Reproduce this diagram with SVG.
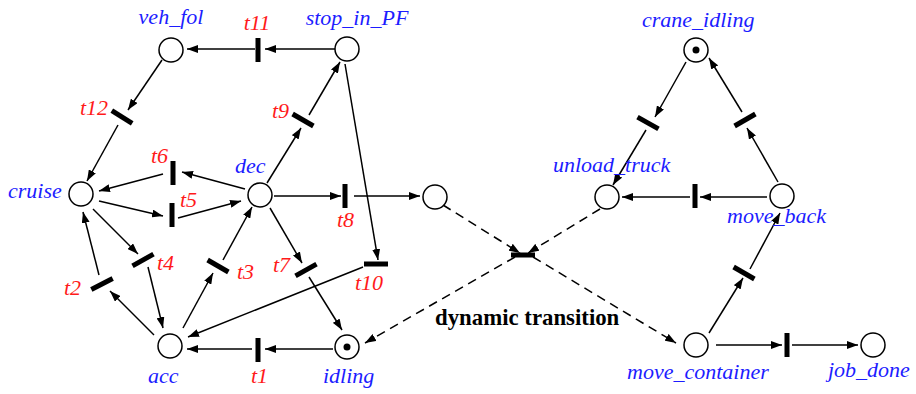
<svg xmlns="http://www.w3.org/2000/svg" width="916" height="394" viewBox="0 0 916 394">
<style>
.pl{fill:#fff;stroke:#000;stroke-width:1.5}
.tk{fill:#000}
.tr{fill:#000}
.arc{stroke:#000;stroke-width:1.5;fill:none;marker-end:url(#ah)}
.dash{stroke:#000;stroke-width:1.5;fill:none;stroke-dasharray:9 6;marker-end:url(#ah)}
.pn{font-family:"Liberation Serif","Times New Roman",serif;font-style:italic;font-size:22px;fill:#1c1cff}
.tn{font-family:"Liberation Serif","Times New Roman",serif;font-style:italic;font-size:22px;fill:#ff1a1a}
.bt{font-family:"Liberation Serif","Times New Roman",serif;font-weight:bold;font-size:22.8px;fill:#000}
</style>
<defs>
<marker id="ah" markerUnits="userSpaceOnUse" markerWidth="11" markerHeight="8" refX="11" refY="4" orient="auto">
<path d="M0,0 L11,4 L0,8 z" fill="#000"/>
</marker>
</defs>
<rect width="916" height="394" fill="#fff"/>
<g id="connectors">
<line class="arc" x1="335" y1="49" x2="265" y2="49"/>
<line class="arc" x1="255" y1="49" x2="187" y2="49"/>
<line class="arc" x1="162" y1="60" x2="128" y2="110"/>
<line class="arc" x1="118" y1="125" x2="87" y2="181"/>
<line class="arc" x1="245" y1="189" x2="182" y2="172"/>
<line class="arc" x1="163" y1="174" x2="99" y2="191"/>
<line class="arc" x1="99" y1="201" x2="163" y2="216"/>
<line class="arc" x1="178" y1="218" x2="241" y2="201"/>
<line class="arc" x1="93" y1="209" x2="138" y2="254"/>
<line class="arc" x1="148" y1="267" x2="163" y2="328"/>
<line class="arc" x1="154" y1="335" x2="110" y2="291"/>
<line class="arc" x1="99" y1="275" x2="83" y2="212"/>
<line class="arc" x1="183" y1="328" x2="213" y2="273"/>
<line class="arc" x1="223" y1="260" x2="252" y2="207"/>
<line class="arc" x1="333" y1="349" x2="265" y2="349"/>
<line class="arc" x1="252" y1="349" x2="187" y2="349"/>
<line class="arc" x1="267" y1="183" x2="301" y2="128"/>
<line class="arc" x1="309" y1="115" x2="340" y2="62"/>
<line class="arc" x1="274" y1="196" x2="341" y2="196"/>
<line class="arc" x1="354" y1="196" x2="420" y2="196"/>
<line class="arc" x1="270" y1="208" x2="302" y2="263"/>
<line class="arc" x1="309" y1="277" x2="342" y2="330"/>
<line class="arc" x1="345" y1="64" x2="378" y2="260"/>
<line class="arc" x1="363" y1="267" x2="188" y2="337"/>
<line class="arc" x1="686" y1="62" x2="655" y2="117"/>
<line class="arc" x1="646" y1="130" x2="613" y2="185"/>
<line class="arc" x1="767" y1="197" x2="700" y2="197"/>
<line class="arc" x1="690" y1="197" x2="622" y2="197"/>
<line class="arc" x1="778" y1="182" x2="747" y2="128"/>
<line class="arc" x1="742" y1="112" x2="709" y2="58"/>
<line class="arc" x1="709" y1="333" x2="743" y2="278"/>
<line class="arc" x1="750" y1="269" x2="780" y2="213"/>
<line class="arc" x1="716" y1="345" x2="782" y2="345"/>
<line class="arc" x1="792" y1="345" x2="858" y2="345"/>
<line class="dash" x1="443" y1="205" x2="520" y2="253"/>
<line class="dash" x1="600" y1="209" x2="528" y2="253"/>
<line class="dash" x1="515" y1="257" x2="365" y2="343"/>
<line class="dash" x1="533" y1="257" x2="676" y2="343"/>
</g>
<g id="veh_fol"><circle class="pl" cx="171" cy="50" r="12"/><text class="pn" x="171" y="24" text-anchor="middle">veh_fol</text></g>
<g id="stop_in_PF"><circle class="pl" cx="347" cy="49" r="12"/><text class="pn" x="357" y="25" text-anchor="middle">stop_in_PF</text></g>
<g id="cruise"><circle class="pl" cx="81" cy="194" r="12"/><text class="pn" x="8" y="198">cruise</text></g>
<g id="dec"><circle class="pl" cx="260" cy="195" r="12"/><text class="pn" x="235" y="173">dec</text></g>
<g id="acc"><circle class="pl" cx="170" cy="346" r="12"/><text class="pn" x="148" y="383">acc</text></g>
<g id="idling"><circle class="pl" cx="347" cy="347" r="12"/><circle class="tk" cx="347" cy="347" r="3.5"/><text class="pn" x="323" y="383">idling</text></g>
<g id="p_out"><circle class="pl" cx="435" cy="197" r="12"/></g>
<g id="crane_idling"><circle class="pl" cx="696" cy="50" r="12"/><circle class="tk" cx="696" cy="50" r="3.5"/><text class="pn" x="642" y="27">crane_idling</text></g>
<g id="unload_truck"><circle class="pl" cx="607" cy="197" r="12"/><text class="pn" x="553" y="172">unload_truck</text></g>
<g id="move_back"><circle class="pl" cx="782" cy="196" r="12"/><text class="pn" x="727" y="223">move_back</text></g>
<g id="move_container"><circle class="pl" cx="696" cy="345" r="12"/><text class="pn" x="627" y="379">move_container</text></g>
<g id="job_done"><circle class="pl" cx="873" cy="345" r="12"/><text class="pn" x="828" y="377">job_done</text></g>
<g id="t11"><rect class="tr" x="-12" y="-2.5" width="24" height="5" transform="translate(258,50) rotate(90)"/><text class="tn" x="257" y="30" text-anchor="middle">t11</text></g>
<g id="t12"><rect class="tr" x="-12" y="-2.5" width="24" height="5" transform="translate(122,117) rotate(32)"/><text class="tn" x="80" y="115">t12</text></g>
<g id="t6"><rect class="tr" x="-12" y="-2.5" width="24" height="5" transform="translate(173,173) rotate(90)"/><text class="tn" x="151" y="163">t6</text></g>
<g id="t5"><rect class="tr" x="-12" y="-2.5" width="24" height="5" transform="translate(172,215) rotate(90)"/><text class="tn" x="180" y="207">t5</text></g>
<g id="t4"><rect class="tr" x="-12" y="-2.5" width="24" height="5" transform="translate(143,260) rotate(-29)"/><text class="tn" x="157" y="270">t4</text></g>
<g id="t2"><rect class="tr" x="-12" y="-2.5" width="24" height="5" transform="translate(102,284) rotate(-27)"/><text class="tn" x="64" y="295">t2</text></g>
<g id="t3"><rect class="tr" x="-12" y="-2.5" width="24" height="5" transform="translate(218,266) rotate(30)"/><text class="tn" x="237" y="279">t3</text></g>
<g id="t1"><rect class="tr" x="-12" y="-2.5" width="24" height="5" transform="translate(258,350) rotate(90)"/><text class="tn" x="251" y="383">t1</text></g>
<g id="t9"><rect class="tr" x="-12" y="-2.5" width="24" height="5" transform="translate(303,120) rotate(30)"/><text class="tn" x="272" y="118">t9</text></g>
<g id="t8"><rect class="tr" x="-12" y="-2.5" width="24" height="5" transform="translate(345,196) rotate(90)"/><text class="tn" x="337" y="227">t8</text></g>
<g id="t7"><rect class="tr" x="-12" y="-2.5" width="24" height="5" transform="translate(306,270) rotate(-29)"/><text class="tn" x="273" y="272">t7</text></g>
<g id="t10"><rect class="tr" x="-12" y="-2.5" width="24" height="5" transform="translate(376,264)"/><text class="tn" x="355" y="290">t10</text></g>
<g id="dynamic_transition"><rect class="tr" x="-12" y="-2.5" width="24" height="5" transform="translate(523,255)"/><text class="bt" x="435" y="325">dynamic transition</text></g>
<g id="tr_unload"><rect class="tr" x="-12" y="-2.5" width="24" height="5" transform="translate(648,123) rotate(29)"/></g>
<g id="tr_return"><rect class="tr" x="-12" y="-2.5" width="24" height="5" transform="translate(745,120) rotate(-30)"/></g>
<g id="tr_back_unload"><rect class="tr" x="-12" y="-2.5" width="24" height="5" transform="translate(695,196) rotate(90)"/></g>
<g id="tr_move_back"><rect class="tr" x="-12" y="-2.5" width="24" height="5" transform="translate(744,273) rotate(30)"/></g>
<g id="tr_done"><rect class="tr" x="-12" y="-2.5" width="24" height="5" transform="translate(787,345) rotate(90)"/></g>
</svg>
